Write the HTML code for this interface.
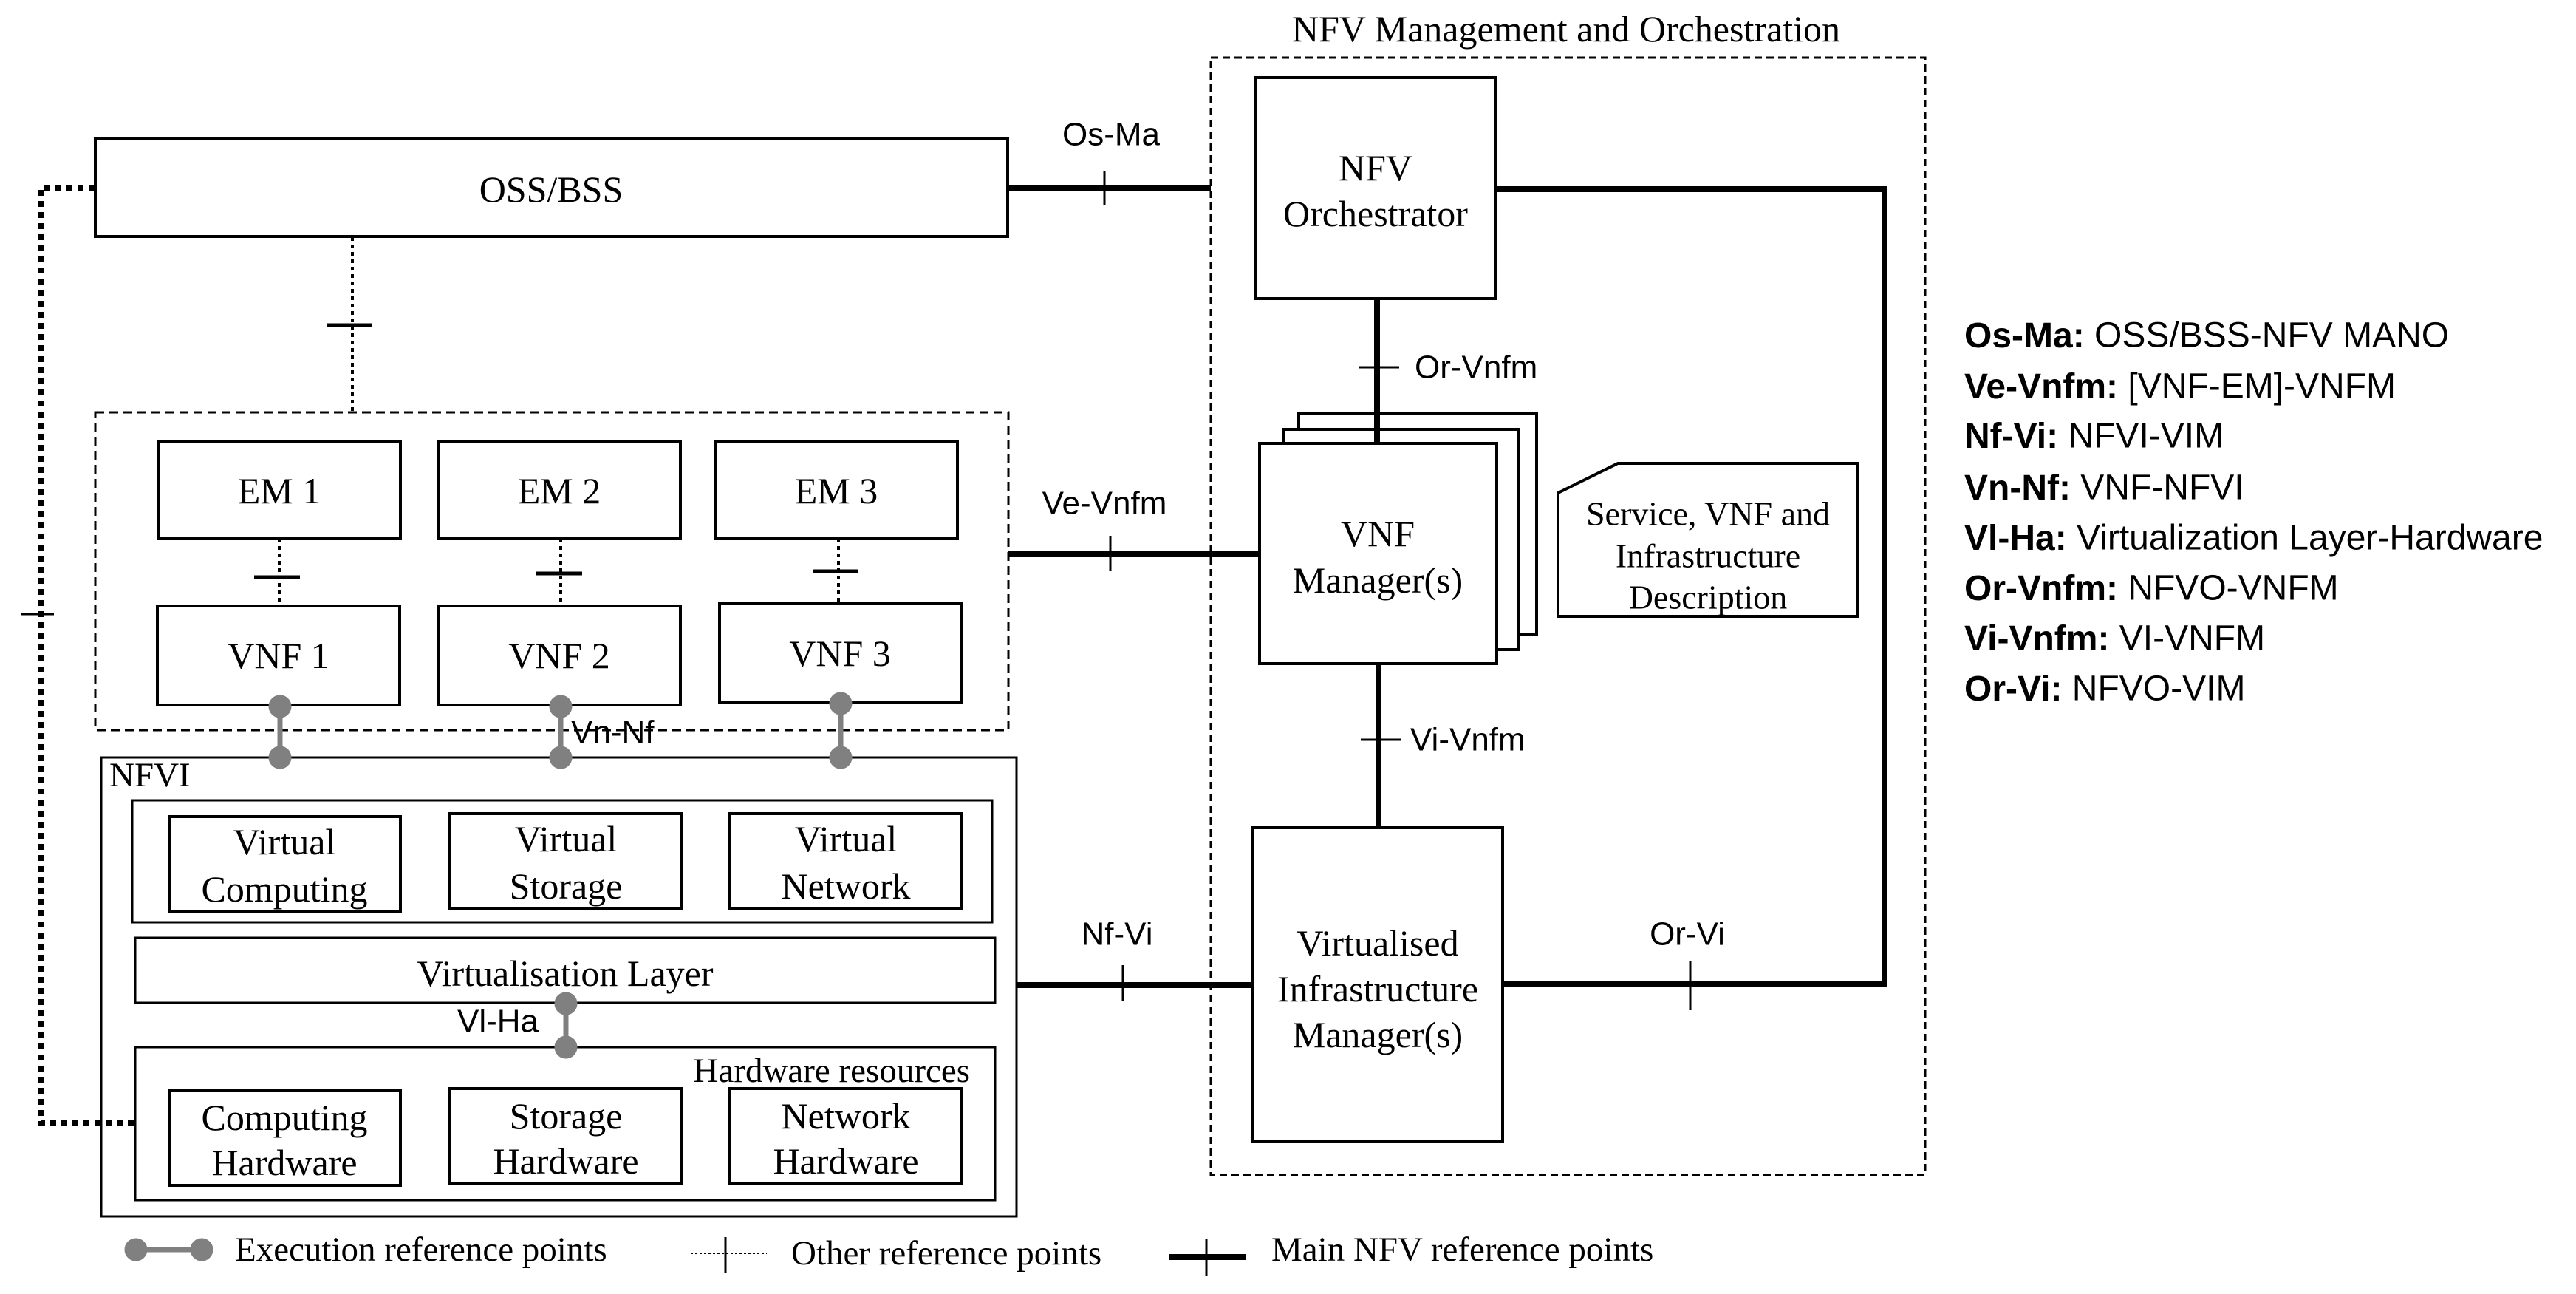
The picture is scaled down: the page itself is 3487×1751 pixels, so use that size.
<!DOCTYPE html>
<html><head><meta charset="utf-8"><style>
html,body{margin:0;padding:0;background:#fff;}
svg{display:block;}
.s{font-family:"Liberation Serif",serif;}
.a{font-family:"Liberation Sans",sans-serif;}
</style></head><body>
<svg width="3487" height="1751" viewBox="0 0 3487 1751" xmlns="http://www.w3.org/2000/svg">
<g fill="none" stroke="#000" stroke-width="4">
<rect x="129" y="188" width="1235" height="132"/>
<rect x="129" y="558" width="1236" height="430" stroke-width="3" stroke-dasharray="12,7"/>
<rect x="215" y="597" width="327" height="132"/>
<rect x="594" y="597" width="327" height="132"/>
<rect x="969" y="597" width="327" height="132"/>
<rect x="213" y="820" width="328" height="134"/>
<rect x="594" y="820" width="327" height="134"/>
<rect x="974" y="816" width="327" height="135"/>
<rect x="137" y="1025" width="1239" height="621" stroke-width="3"/>
<rect x="179" y="1083" width="1164" height="165" stroke-width="3"/>
<rect x="229" y="1105" width="313" height="128"/>
<rect x="609" y="1101" width="314" height="128"/>
<rect x="988" y="1101" width="314" height="128"/>
<rect x="183" y="1269" width="1164" height="88" stroke-width="3"/>
<rect x="183" y="1417" width="1164" height="207" stroke-width="3"/>
<rect x="229" y="1476" width="313" height="128"/>
<rect x="609" y="1473" width="314" height="128"/>
<rect x="988" y="1473" width="314" height="128"/>
<rect x="1639" y="78" width="967" height="1512" stroke-width="3" stroke-dasharray="10,6"/>
<rect x="1700" y="105" width="325" height="299"/>
<rect x="1758" y="559" width="322" height="299" fill="#fff"/>
<rect x="1737" y="581" width="319" height="298" fill="#fff"/>
<rect x="1705" y="600" width="321" height="298" fill="#fff"/>
<path d="M2109 667 L2190 627 L2514 627 L2514 834 L2109 834 Z"/>
<rect x="1696" y="1120" width="338" height="425"/>
</g>
<g stroke="#000" fill="none">
<path d="M128 254 L56 254 L56 1520 L184 1520" stroke-width="8" stroke-dasharray="8,7"/>
<line x1="28" y1="831" x2="73" y2="831" stroke-width="3"/>
<line x1="477" y1="321" x2="477" y2="558" stroke-width="4" stroke-dasharray="5,5"/>
<line x1="443" y1="440" x2="504" y2="440" stroke-width="5"/>
<line x1="378" y1="729" x2="378" y2="820" stroke-width="4" stroke-dasharray="5,5"/>
<line x1="344" y1="781" x2="406" y2="781" stroke-width="5"/>
<line x1="759" y1="729" x2="759" y2="820" stroke-width="4" stroke-dasharray="5,5"/>
<line x1="725" y1="776" x2="788" y2="776" stroke-width="5"/>
<line x1="1135" y1="729" x2="1135" y2="816" stroke-width="4" stroke-dasharray="5,5"/>
<line x1="1100" y1="773" x2="1162" y2="773" stroke-width="5"/>
</g>
<g stroke="#000" fill="none" stroke-width="8">
<line x1="1364" y1="254" x2="1639" y2="254"/>
<line x1="1365" y1="750" x2="1705" y2="750"/>
<line x1="1376" y1="1333" x2="1696" y2="1333"/>
<path d="M2025 256 L2551 256 L2551 1331 L2034 1331"/>
<line x1="1864" y1="404" x2="1864" y2="600"/>
<line x1="1866" y1="898" x2="1866" y2="1120"/>
<line x1="1583" y1="1701" x2="1687" y2="1701"/>
</g>
<g stroke="#000" stroke-width="3">
<line x1="1495" y1="231" x2="1495" y2="277"/>
<line x1="1503" y1="725" x2="1503" y2="772"/>
<line x1="1520" y1="1306" x2="1520" y2="1354"/>
<line x1="2288" y1="1300" x2="2288" y2="1367"/>
<line x1="1840" y1="497" x2="1894" y2="497"/>
<line x1="1842" y1="1001" x2="1896" y2="1001"/>
<line x1="1633" y1="1676" x2="1633" y2="1726"/>
<line x1="935" y1="1696" x2="1038" y2="1696" stroke-dasharray="3,3" stroke-width="2"/>
<line x1="982" y1="1674" x2="982" y2="1722"/>
</g>
<g stroke="#808080" stroke-width="7" fill="#808080">
<line x1="379" y1="956" x2="379" y2="1025"/><circle cx="379" cy="956" r="12"/><circle cx="379" cy="1025" r="12"/>
<line x1="759" y1="956" x2="759" y2="1025"/><circle cx="759" cy="956" r="12"/><circle cx="759" cy="1025" r="12"/>
<line x1="1138" y1="952" x2="1138" y2="1025"/><circle cx="1138" cy="952" r="12"/><circle cx="1138" cy="1025" r="12"/>
<line x1="766" y1="1358" x2="766" y2="1417"/><circle cx="766" cy="1358" r="12"/><circle cx="766" cy="1417" r="12"/>
<line x1="184" y1="1691" x2="273" y2="1691"/><circle cx="184" cy="1691" r="12"/><circle cx="273" cy="1691" r="12"/>
</g>
<g class="s" font-size="50" text-anchor="middle" dominant-baseline="central" fill="#000">
<text x="746" y="256">OSS/BSS</text>
<text x="378" y="664">EM 1</text>
<text x="757" y="664">EM 2</text>
<text x="1132" y="664">EM 3</text>
<text x="377" y="887">VNF 1</text>
<text x="757" y="887">VNF 2</text>
<text x="1137" y="884">VNF 3</text>
<text x="385" y="1139">Virtual</text><text x="385" y="1203">Computing</text>
<text x="766" y="1135">Virtual</text><text x="766" y="1199">Storage</text>
<text x="1145" y="1135">Virtual</text><text x="1145" y="1199">Network</text>
<text x="765" y="1317">Virtualisation Layer</text>
<text x="385" y="1512">Computing</text><text x="385" y="1573">Hardware</text>
<text x="766" y="1510">Storage</text><text x="766" y="1571">Hardware</text>
<text x="1145" y="1510">Network</text><text x="1145" y="1571">Hardware</text>
<text x="1862" y="227">NFV</text><text x="1862" y="289">Orchestrator</text>
<text x="1865" y="722">VNF</text><text x="1865" y="785">Manager(s)</text>
<text x="1865" y="1276">Virtualised</text><text x="1865" y="1338">Infrastructure</text><text x="1865" y="1400">Manager(s)</text>
<text x="2312" y="695" font-size="46">Service, VNF and</text>
<text x="2312" y="752" font-size="46">Infrastructure</text>
<text x="2312" y="808" font-size="46">Description</text>
<text x="2120" y="39" font-size="50">NFV Management and Orchestration</text>
</g>
<g class="s" font-size="47" dominant-baseline="central" fill="#000">
<text x="148" y="1049">NFVI</text>
<text x="1313" y="1449" text-anchor="end">Hardware resources</text>
<text x="318" y="1691">Execution reference points</text>
<text x="1071" y="1696">Other reference points</text>
<text x="1721" y="1691">Main NFV reference points</text>
</g>
<g class="a" font-size="44" dominant-baseline="central" fill="#000">
<text x="1504" y="182" text-anchor="middle">Os-Ma</text>
<text x="1495" y="681" text-anchor="middle">Ve-Vnfm</text>
<text x="1512" y="1264" text-anchor="middle">Nf-Vi</text>
<text x="2284" y="1264" text-anchor="middle">Or-Vi</text>
<text x="1915" y="497">Or-Vnfm</text>
<text x="1909" y="1001">Vi-Vnfm</text>
<text x="773" y="991">Vn-Nf</text>
<text x="619" y="1382">Vl-Ha</text>
</g>
<g class="a" font-size="48" dominant-baseline="central" fill="#000">
<text x="2659" y="454"><tspan font-weight="bold">Os-Ma:</tspan> OSS/BSS-NFV MANO</text>
<text x="2659" y="523"><tspan font-weight="bold">Ve-Vnfm:</tspan> [VNF-EM]-VNFM</text>
<text x="2659" y="590"><tspan font-weight="bold">Nf-Vi:</tspan> NFVI-VIM</text>
<text x="2659" y="660"><tspan font-weight="bold">Vn-Nf:</tspan> VNF-NFVI</text>
<text x="2659" y="728"><tspan font-weight="bold">Vl-Ha:</tspan> Virtualization Layer-Hardware</text>
<text x="2659" y="796"><tspan font-weight="bold">Or-Vnfm:</tspan> NFVO-VNFM</text>
<text x="2659" y="864"><tspan font-weight="bold">Vi-Vnfm:</tspan> VI-VNFM</text>
<text x="2659" y="932"><tspan font-weight="bold">Or-Vi:</tspan> NFVO-VIM</text>
</g>
</svg>
</body></html>
